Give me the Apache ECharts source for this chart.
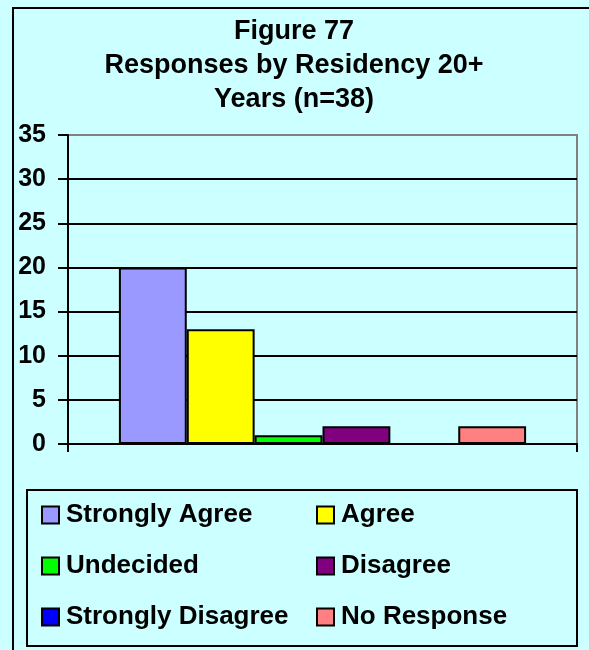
<!DOCTYPE html>
<html>
<head>
<meta charset="utf-8">
<script src="https://cdn.jsdelivr.net/npm/echarts@6/dist/echarts.min.js"></script>
<style>
html,body{margin:0;padding:0;background:#CCFFFF;}
#chart{width:589px;height:650px;}
</style>
</head>
<body>
<div id="chart"></div>
<script>
const titleLines = ['Figure 77', 'Responses by Residency 20+', 'Years (n=38)'];
const seriesNames = ['Strongly Agree', 'Agree', 'Undecided', 'Disagree', 'Strongly Disagree', 'No Response'];
const seriesValues = [20, 13, 1, 2, 0, 2];
const seriesColors = ['#9999FF', '#FFFF00', '#00FF00', '#800080', '#0000FF', '#FF8080'];
const categories = [''];
const yMin = 0, yMax = 35, yInterval = 5;

const FONT = 'Arial, "Liberation Sans", sans-serif';
const chart = echarts.init(document.getElementById('chart'), null, {renderer: 'canvas'});

const legendPos = [
  {left: 41, top: 502}, {left: 316, top: 502},
  {left: 41, top: 553}, {left: 316, top: 553},
  {left: 41, top: 604}, {left: 316, top: 604}
];

const option = {
  backgroundColor: '#CCFFFF',
  animation: false,
  title: {
    text: titleLines.join('\n'),
    left: 294,
    top: 15,
    textAlign: 'center',
    padding: 0,
    textStyle: {fontFamily: FONT, fontWeight: 'bold', fontSize: 27, lineHeight: 34, color: '#000'}
  },
  graphic: [
    {type: 'rect', shape: {x: 13, y: 8, width: 620, height: 680}, style: {fill: 'none', stroke: '#000', lineWidth: 2}, z: 100},
    {type: 'rect', shape: {x: 27, y: 490, width: 550, height: 156}, style: {fill: 'none', stroke: '#000', lineWidth: 2}, z: 100}
  ],
  legend: seriesNames.map((n, i) => ({
    data: [n],
    left: legendPos[i].left,
    top: legendPos[i].top,
    padding: 0,
    icon: 'rect',
    itemWidth: 17,
    itemHeight: 17,
    selectedMode: false,
    textStyle: {fontFamily: FONT, fontWeight: 'bold', fontSize: 26, lineHeight: 26, color: '#000', padding: [0, 0, 0, 2]}
  })),
  grid: {
    left: 68, top: 135, right: 12, bottom: 206,
    show: true, borderColor: '#808080', borderWidth: 2, backgroundColor: 'transparent'
  },
  xAxis: {
    type: 'category',
    data: categories,
    axisLine: {lineStyle: {color: '#000', width: 2}},
    axisTick: {show: true, length: 8, lineStyle: {color: '#000', width: 2}},
    axisLabel: {show: false},
    splitLine: {show: false}
  },
  yAxis: {
    type: 'value',
    min: yMin, max: yMax, interval: yInterval,
    axisLine: {show: true, lineStyle: {color: '#000', width: 2}},
    axisTick: {show: true, length: 10, lineStyle: {color: '#000', width: 2}},
    axisLabel: {fontFamily: FONT, fontWeight: 'bold', fontSize: 25, color: '#000', margin: 22},
    splitLine: {show: true, showMaxLine: false, showMinLine: false, lineStyle: {color: '#000', width: 2}}
  },
  series: seriesNames.map((n, i) => ({
    name: n,
    type: 'bar',
    data: [seriesValues[i]],
    barGap: '0%',
    barCategoryGap: '20%',
    itemStyle: {color: seriesColors[i], borderColor: '#000', borderWidth: 2}
  }))
};
chart.setOption(option);
</script>
</body>
</html>
